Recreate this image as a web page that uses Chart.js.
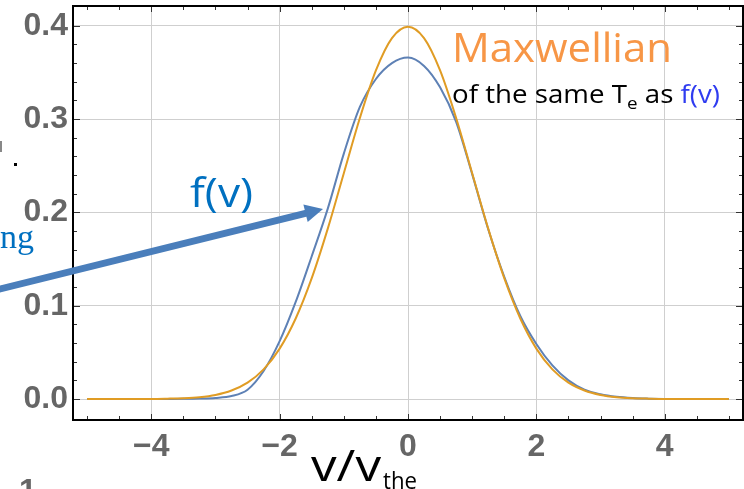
<!DOCTYPE html>
<html>
<head>
<meta charset="utf-8">
<script src="https://cdn.jsdelivr.net/npm/chart.js@4.4.1/dist/chart.umd.min.js"></script>
<style>
  html, body { margin: 0; padding: 0; background: #fff; overflow: hidden; }
  canvas { display: block; }
</style>
</head>
<body>
<canvas id="chart" width="744" height="489"></canvas>
<script>
// velocity grid v / v_the
const vValues = [
  -5, -4.75, -4.5, -4.25, -4, -3.75, -3.5, -3.25, -3, -2.75, -2.5, -2.25, -2, -1.75, -1.5, -1.25, -1, -0.75, -0.5, -0.25,
  0, 0.25, 0.5, 0.75, 1, 1.25, 1.5, 1.75, 2, 2.25, 2.5, 2.75, 3, 3.25, 3.5, 3.75, 4, 4.25, 4.5, 4.75, 5
];

// measured distribution f(v) (blue)
const fvValues = [
  0, 0, 0, 0, 0, 0.0001, 0.0002, 0.0005, 0.0012, 0.0032, 0.0100, 0.0300, 0.0620, 0.1040, 0.1530, 0.2040, 0.2630, 0.3130, 0.3430, 0.3600,
  0.3660, 0.3570, 0.3340, 0.2970, 0.2410, 0.1820, 0.1310, 0.0890, 0.0590, 0.0360, 0.0200, 0.0100, 0.0050, 0.0023, 0.0010, 0.0004, 0.0001, 0, 0, 0, 0
];

// Maxwellian of the same Te (orange)
const maxwellValues = [
  0, 0, 0, 0.0001, 0.0001, 0.0004, 0.0009, 0.0020, 0.0044, 0.0091, 0.0175, 0.0317, 0.0540, 0.0863, 0.1295, 0.1826, 0.2420, 0.3011, 0.3521, 0.3867,
  0.3989, 0.3867, 0.3521, 0.3011, 0.2420, 0.1826, 0.1295, 0.0863, 0.0540, 0.0317, 0.0175, 0.0091, 0.0044, 0.0020, 0.0009, 0.0004, 0.0001, 0.0001, 0, 0, 0
];

const xTickValues = [-4, -2, 0, 2, 4];
const yTickValues = [0, 0.1, 0.2, 0.3, 0.4];

const tickFont = { family: '"Liberation Sans", Arial, sans-serif', size: 32, weight: 'bold' };
const tickColor = '#666666';

function toPoints(ys) {
  return vValues.map((v, i) => ({ x: v, y: ys[i] }));
}

// stretch text horizontally so it fills a measured width
function fitText(ctx, text, x, y, font, color, width) {
  ctx.save();
  ctx.font = font;
  const w = ctx.measureText(text).width;
  ctx.translate(x, y);
  ctx.scale(width / w, 1);
  ctx.fillStyle = color;
  ctx.fillText(text, 0, 0);
  ctx.restore();
}

// frame with Mathematica style ticks
const framePlugin = {
  id: 'frame',
  afterDatasetsDraw(chart) {
    const { ctx, chartArea: a, scales: { x, y } } = chart;
    ctx.save();
    ctx.strokeStyle = '#333';
    ctx.lineWidth = 1;
    ctx.beginPath();
    for (let k = -10; k <= 10; k++) {
      const v = k / 2;
      const px = Math.round(x.getPixelForValue(v)) + 0.5;
      const len = xTickValues.includes(v) ? 6 : 4;
      ctx.moveTo(px, a.bottom); ctx.lineTo(px, a.bottom - len);
      ctx.moveTo(px, a.top); ctx.lineTo(px, a.top + len);
    }
    for (let k = 0; k <= 20; k++) {
      const v = k / 50;
      const py = Math.round(y.getPixelForValue(v)) + 0.5;
      const len = k % 5 === 0 ? 7 : 4;
      ctx.moveTo(a.left, py); ctx.lineTo(a.left + len, py);
      ctx.moveTo(a.right, py); ctx.lineTo(a.right - len, py);
    }
    ctx.stroke();
    ctx.strokeStyle = '#000';
    ctx.lineWidth = 2;
    ctx.strokeRect(a.left, a.top, a.right - a.left, a.bottom - a.top);
    ctx.restore();
  }
};

// slide annotations around the plot
const notesPlugin = {
  id: 'notes',
  afterDraw(chart) {
    const ctx = chart.ctx;
    const sans = '"Open Sans", "Noto Sans", sans-serif';
    ctx.save();
    ctx.textBaseline = 'alphabetic';

    // Maxwellian label
    fitText(ctx, 'Maxwellian', 452, 62, '40px ' + sans, '#F79646', 220);

    // second line: of the same Te as f(v)
    const parts = [
      { t: 'of the same T', f: '25px ' + sans, c: '#000', dy: 0 },
      { t: 'e', f: '17px ' + sans, c: '#000', dy: 6 },
      { t: ' as ', f: '25px ' + sans, c: '#000', dy: 0 },
      { t: 'f(v)', f: '25px ' + sans, c: '#2F3CF0', dy: 0 }
    ];
    let total = 0;
    parts.forEach(p => { ctx.font = p.f; p.w = ctx.measureText(p.t).width; total += p.w; });
    const sx = 268 / total;
    let cx = 452;
    parts.forEach(p => {
      ctx.save();
      ctx.font = p.f;
      ctx.fillStyle = p.c;
      ctx.translate(cx, 103 + p.dy);
      ctx.scale(sx, 1);
      ctx.fillText(p.t, 0, 0);
      ctx.restore();
      cx += p.w * sx;
    });

    // f(v) callout and arrow
    fitText(ctx, 'f(v)', 190, 207, '41px ' + sans, '#0070C0', 63);
    const tail = { x: -4, y: 290 }, tip = { x: 323, y: 209 };
    const dx = tip.x - tail.x, dy = tip.y - tail.y, len = Math.hypot(dx, dy);
    const ux = dx / len, uy = dy / len;
    const headLen = 18, headHalf = 9;
    const bx = tip.x - ux * headLen, by = tip.y - uy * headLen;
    ctx.strokeStyle = '#4A7EBB';
    ctx.fillStyle = '#4A7EBB';
    ctx.lineWidth = 7;
    ctx.beginPath();
    ctx.moveTo(tail.x, tail.y);
    ctx.lineTo(bx + ux * 2, by + uy * 2);
    ctx.stroke();
    ctx.beginPath();
    ctx.moveTo(tip.x, tip.y);
    ctx.lineTo(bx - uy * headHalf, by + ux * headHalf);
    ctx.lineTo(bx + uy * headHalf, by - ux * headHalf);
    ctx.closePath();
    ctx.fill();

    // cut-off bits of neighbouring slide text
    ctx.font = '34px "Liberation Serif", serif';
    ctx.fillStyle = '#0070C0';
    ctx.fillText('ng', 0, 248);
    ctx.fillStyle = '#000';
    ctx.fillRect(14, 163, 3, 3);
    ctx.fillStyle = '#888';
    ctx.fillRect(0, 141, 2, 11);
    ctx.font = 'bold 32px "Liberation Sans", Arial, sans-serif';
    ctx.fillStyle = tickColor;
    ctx.fillText('1', 19, 501);

    // axis title v/v_the
    fitText(ctx, 'v/v', 311, 481, '43px ' + sans, '#000', 70);
    fitText(ctx, 'the', 383, 489, '23px ' + sans, '#000', 34);
    ctx.restore();
  }
};

new Chart(document.getElementById('chart'), {
  type: 'line',
  data: {
    datasets: [
      {
        label: 'Maxwellian',
        data: toPoints(maxwellValues),
        borderColor: '#E09C24',
        borderWidth: 2,
        pointRadius: 0,
        cubicInterpolationMode: 'monotone',
        fill: false
      },
      {
        label: 'f(v)',
        data: toPoints(fvValues),
        borderColor: '#5E81B5',
        borderWidth: 2,
        pointRadius: 0,
        cubicInterpolationMode: 'monotone',
        fill: false
      }
    ]
  },
  options: {
    responsive: false,
    animation: false,
    devicePixelRatio: 1,
    layout: { padding: { top: 6, right: 1, left: 0, bottom: 0 } },
    plugins: { legend: { display: false }, tooltip: { enabled: false } },
    scales: {
      x: {
        type: 'linear',
        min: -5.22,
        max: 5.22,
        afterBuildTicks: s => { s.ticks = xTickValues.map(v => ({ value: v })); },
        afterFit: s => { s.height = 69; s.paddingLeft = 0; s.paddingRight = 0; },
        grid: { color: '#cfcfcf', lineWidth: 1, drawTicks: false },
        border: { display: false },
        ticks: {
          font: tickFont,
          color: tickColor,
          padding: 8,
          maxRotation: 0,
          callback: v => (v < 0 ? '\u2212' + Math.abs(v) : String(v))
        }
      },
      y: {
        min: -0.0225,
        max: 0.4212,
        afterBuildTicks: s => { s.ticks = yTickValues.map(v => ({ value: v })); },
        afterFit: s => { s.width = 73; s.paddingTop = 0; s.paddingBottom = 0; },
        grid: { color: '#cfcfcf', lineWidth: 1, drawTicks: false },
        border: { display: false },
        ticks: {
          font: tickFont,
          color: tickColor,
          padding: 5,
          callback: v => v.toFixed(1)
        }
      }
    }
  },
  plugins: [framePlugin, notesPlugin]
});
</script>
</body>
</html>
